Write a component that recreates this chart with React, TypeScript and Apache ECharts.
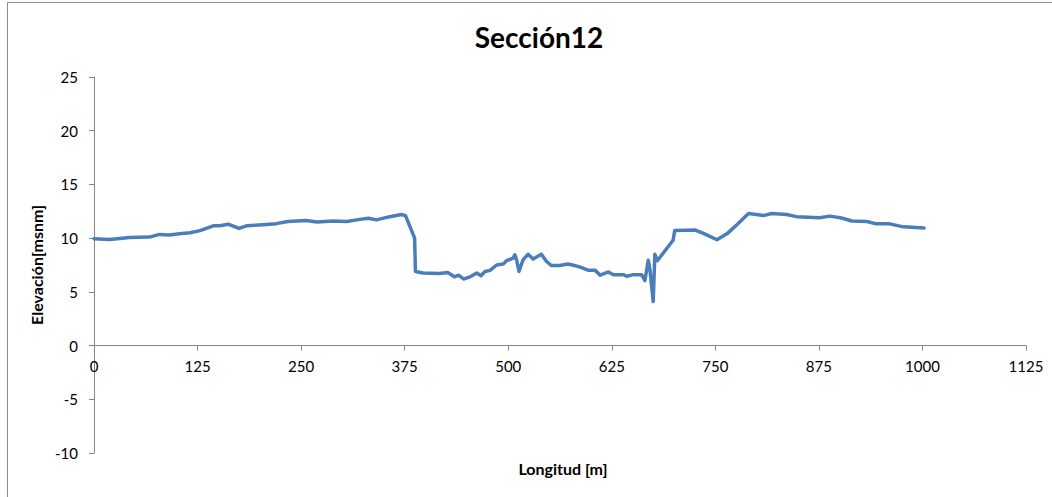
import React, { useEffect, useRef } from "react";
import * as echarts from "echarts";

const distances = [0, 19, 43, 67, 79, 91, 103, 116, 128, 144, 152, 162, 175, 184, 204, 220, 234, 256, 269, 289, 305, 317, 331, 341, 357, 371, 376, 387, 388, 397, 417, 427, 435, 440, 446, 454, 462, 467, 472, 478, 486, 494, 498, 506, 508, 510, 513, 518, 524, 530, 540, 546, 552, 562, 572, 580, 587, 597, 605, 611, 621, 627, 639, 643, 651, 661, 665, 669, 671, 675, 677, 680, 699, 701, 726, 737, 752, 764, 776, 790, 808, 818, 836, 848, 876, 888, 901, 915, 933, 943, 959, 977, 1002];
const elevations = [9.95, 9.88, 10.05, 10.1, 10.35, 10.3, 10.4, 10.5, 10.7, 11.15, 11.15, 11.3, 10.9, 11.15, 11.25, 11.35, 11.55, 11.65, 11.5, 11.6, 11.55, 11.7, 11.85, 11.7, 12.0, 12.2, 12.1, 10.0, 6.9, 6.75, 6.7, 6.8, 6.4, 6.55, 6.2, 6.4, 6.75, 6.5, 6.9, 7.0, 7.5, 7.6, 7.9, 8.15, 8.45, 8.0, 6.9, 8.0, 8.5, 8.05, 8.5, 7.85, 7.45, 7.45, 7.6, 7.45, 7.3, 7.0, 7.0, 6.55, 6.85, 6.6, 6.6, 6.45, 6.6, 6.6, 6.05, 7.95, 7.1, 4.1, 8.5, 7.9, 9.8, 10.7, 10.75, 10.4, 9.85, 10.4, 11.25, 12.3, 12.1, 12.3, 12.2, 12.0, 11.9, 12.05, 11.9, 11.6, 11.55, 11.35, 11.35, 11.05, 10.95];

const titleText = "Sección12";
const xTitle = "Longitud [m]";
const yTitle = "Elevación[msnm]";

const X_MIN = 0;
const X_MAX = 1125;
const X_STEP = 125;
const Y_MIN = -10;
const Y_MAX = 25;
const Y_STEP = 5;

const FONT = "Lato, 'Open Sans', sans-serif";
const AXIS_GRAY = "#868686";

const GRID_TOP = 77;
const GRID_BOTTOM = 44;
const HEIGHT = 497;

export default function App() {
  const ref = useRef<HTMLDivElement>(null);
  useEffect(() => {
    if (!ref.current) return;
    const chart = echarts.init(ref.current, null, { renderer: "svg" });
    const data = distances.map((d, i) => [d, elevations[i]]);
    // the x axis crosses the y axis at elevation 0: shift it up from the grid bottom
    const plotH = HEIGHT - GRID_TOP - GRID_BOTTOM;
    const zeroShift = (plotH * (0 - Y_MIN)) / (Y_MAX - Y_MIN);
    chart.setOption({
      animation: false,
      backgroundColor: "#ffffff",
      title: [
        {
          text: titleText,
          left: 534,
          textAlign: "center",
          top: 18,
          textStyle: { fontFamily: FONT, fontWeight: "bold", fontSize: 28, color: "#000" },
        },
        {
          text: xTitle,
          left: 558,
          textAlign: "center",
          top: 455,
          textStyle: { fontFamily: FONT, fontWeight: "bold", fontSize: 16, color: "#000" },
        },
      ],
      graphic: [
        {
          type: "rect",
          silent: true,
          shape: { x: 7.5, y: 2.5, width: 1100, height: 600 },
          style: { fill: "none", stroke: "#8c8c8c", lineWidth: 1 },
        },
      ],
      grid: { left: 94, right: 26, top: GRID_TOP, bottom: GRID_BOTTOM, containLabel: false },
      xAxis: {
        type: "value",
        min: X_MIN,
        max: X_MAX,
        interval: X_STEP,
        position: "bottom",
        offset: -zeroShift,
        axisLine: { show: true, onZero: false, lineStyle: { color: AXIS_GRAY, width: 1 } },
        axisTick: { show: true, length: 5, lineStyle: { color: AXIS_GRAY } },
        axisLabel: {
          fontFamily: FONT,
          fontSize: 15,
          color: "#000",
          margin: 13,
          formatter: (v: number) => String(v),
        },
        splitLine: { show: false },
      },
      yAxis: {
        type: "value",
        min: Y_MIN,
        max: Y_MAX,
        interval: Y_STEP,
        name: yTitle,
        nameLocation: "middle",
        nameGap: 47,
        nameRotate: 90,
        nameTextStyle: { fontFamily: FONT, fontWeight: "bold", fontSize: 16, color: "#000" },
        axisLine: { show: true, lineStyle: { color: AXIS_GRAY, width: 1 } },
        axisTick: { show: true, length: 5, lineStyle: { color: AXIS_GRAY } },
        axisLabel: {
          fontFamily: FONT,
          fontSize: 15,
          color: "#000",
          margin: 16,
          formatter: (v: number) => String(v),
        },
        splitLine: { show: false },
      },
      series: [
        {
          type: "line",
          data,
          showSymbol: false,
          symbol: "none",
          lineStyle: { color: "#4a7ebb", width: 3.5, join: "round", cap: "round" },
        },
      ],
    });
    return () => chart.dispose();
  }, []);
  return (
    <div
      ref={ref}
      style={{ position: "fixed", left: 0, top: 0, width: 1052, height: HEIGHT }}
    />
  );
}
